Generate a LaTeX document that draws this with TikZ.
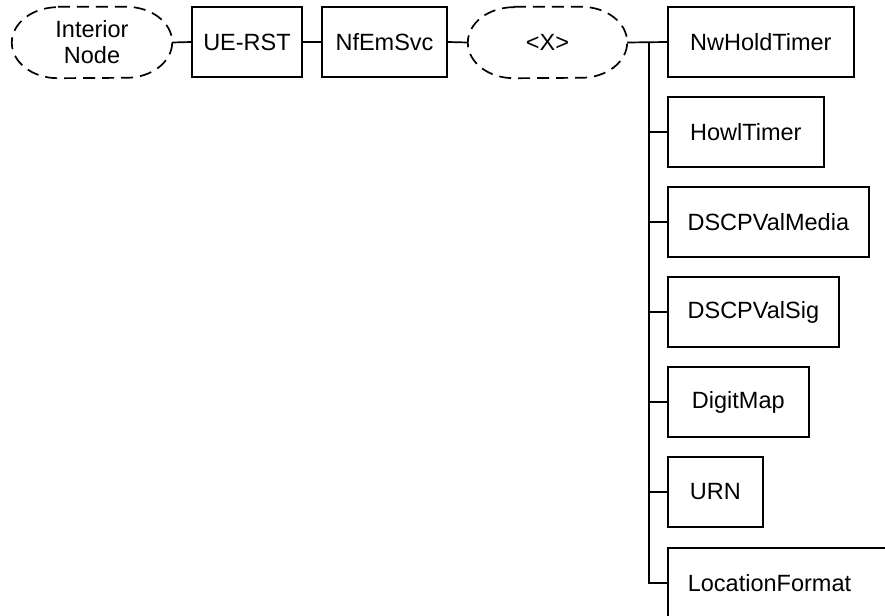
\documentclass[tikz,border=0pt]{standalone}
\usepackage{fontspec}
\setmainfont{Liberation Sans}
\begin{document}
\begin{tikzpicture}[x=1pt,y=-1pt,
  every node/.style={font=\fontsize{23.5}{26}\selectfont, inner sep=0pt},
  box/.style={draw, line width=1.7pt, minimum height=70pt, align=center},
  ibox/.style={minimum width=160pt, minimum height=71pt, align=center},
  dashline/.style={line width=1.7pt, dash pattern=on 12pt off 7pt},
  link/.style={line width=1.7pt}]
\useasboundingbox (0,0) rectangle (885,615);
\clip (0,0) rectangle (885,615);

% top row
\node[ibox] (in) at (92,42.5) {Interior\\Node};
\node[box, minimum width=110pt] (ue) at (247,42) {UE-RST};
\node[box, minimum width=125pt] (nf) at (384.5,42) {NfEmSvc};
\node[ibox, minimum width=159pt] (x) at (547.5,42.5) {<X>};

% dashed outlines of the interior nodes: flat top and bottom, elliptic ends
\foreach \n in {in,x}
  \draw[dashline] ([xshift=46pt]\n.north west) -- ([xshift=-46pt]\n.north east)
    arc[start angle=-90, end angle=90, x radius=46, y radius=35.5]
    -- ([xshift=46pt]\n.south west)
    arc[start angle=90, end angle=270, x radius=46, y radius=35.5] -- cycle;

% children of <X>
\node[box, anchor=west, minimum width=186pt] (n1) at (667,42) {NwHoldTimer};
\node[box, anchor=west, minimum width=156pt] (n2) at (667,132) {HowlTimer};
\node[box, anchor=west, minimum width=201pt] (n3) at (667,222) {DSCPValMedia};
\node[box, anchor=west, minimum width=171pt] (n4) at (667,312) {DSCPValSig};
\node[box, anchor=west, minimum width=141pt] (n5) at (667,402) {DigitMap};
\node[box, anchor=west, minimum width=95pt] (n6) at (667,492) {URN};
\node[box, anchor=north west, inner xsep=20pt] (lf) at (667,547) {\makebox[200pt][l]{LocationFormat}};

% connectors
\draw[link] (in.east) -- (ue.west);
\draw[link] (ue.east) -- (nf.west);
\draw[link] (nf.east) -- (x.west);
\draw[link] (x.east) -- (n1.west);
\coordinate (tr) at (649,42);
\foreach \n in {n2,n3,n4,n5,n6,lf} \draw[link] (tr) |- (\n.west);
\end{tikzpicture}
\end{document}
